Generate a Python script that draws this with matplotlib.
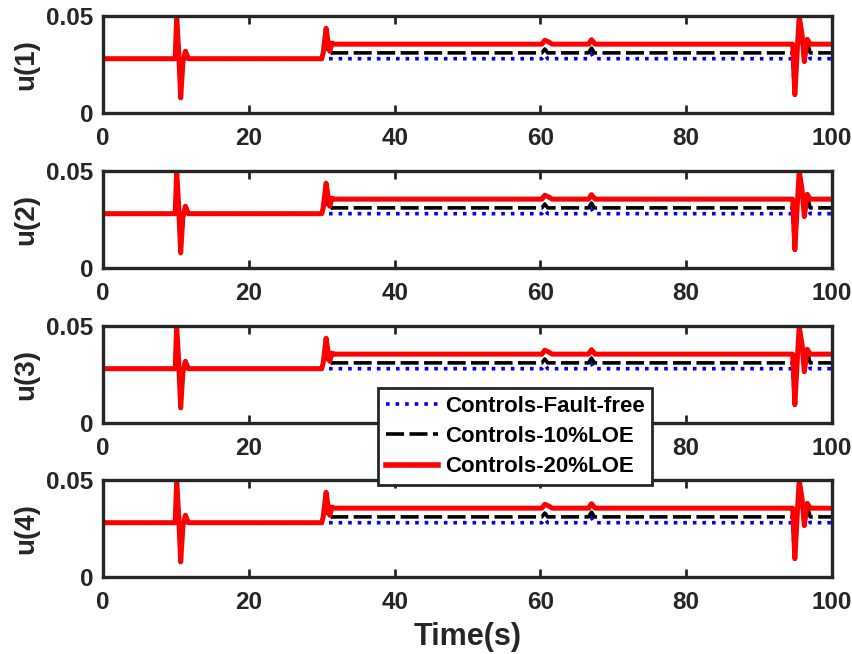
import matplotlib
matplotlib.use('Agg')
import matplotlib.pyplot as plt

plt.rcParams['font.family'] = ['Liberation Sans', 'DejaVu Sans']
plt.rcParams['font.weight'] = 'bold'

# time points / control values (same in all 4 channels)
t_ff = [0, 9.9, 10.1, 10.4, 10.65, 10.95, 11.3, 11.7, 60.2, 60.6, 61.0, 66.6, 67.0, 67.4,
        94.6, 94.9, 95.2, 95.5, 95.9, 96.2, 96.6, 97.0, 100]
u_ff = [0.028, 0.028, 0.050, 0.030, 0.0078, 0.026, 0.0318, 0.028, 0.028, 0.030, 0.028, 0.028, 0.0305, 0.028,
        0.028, 0.0085, 0.030, 0.050, 0.040, 0.0265, 0.036, 0.028, 0.028]

t_10 = [0, 9.9, 10.1, 10.4, 10.65, 10.95, 11.3, 11.7, 30.0, 30.3, 30.6, 31.0, 31.4, 60.2, 60.6, 61.0,
        66.6, 67.0, 67.4, 94.6, 94.9, 95.2, 95.5, 95.9, 96.2, 96.6, 97.0, 100]
u_10 = [0.028, 0.028, 0.050, 0.030, 0.0078, 0.026, 0.0318, 0.028, 0.028, 0.033, 0.038, 0.030, 0.031, 0.031, 0.033, 0.031,
        0.031, 0.0335, 0.031, 0.031, 0.009, 0.030, 0.050, 0.040, 0.0265, 0.037, 0.031, 0.031]

t_20 = [0, 9.9, 10.1, 10.4, 10.65, 10.95, 11.3, 11.7, 30.0, 30.2, 30.6, 30.9, 31.1, 31.4, 31.8,
        60.2, 60.6, 61.2, 61.6, 66.6, 67.0, 67.5, 94.6, 94.9, 95.2, 95.5, 95.9, 96.2, 96.6, 97.0, 100]
u_20 = [0.028, 0.028, 0.050, 0.030, 0.0078, 0.026, 0.0318, 0.028, 0.028, 0.031, 0.0437, 0.036, 0.0318, 0.036, 0.0355,
        0.0355, 0.0375, 0.0365, 0.0355, 0.0355, 0.0378, 0.0355, 0.0355, 0.0095, 0.030, 0.050, 0.040, 0.0265, 0.038, 0.0355, 0.0355]

ylabels = ['u(1)', 'u(2)', 'u(3)', 'u(4)']
xticks = [0, 20, 40, 60, 80, 100]
yticks = [0, 0.05]
ytick_labels = ['0', '0.05']

dark = '#262626'
fig = plt.figure(figsize=(8.53, 6.54), dpi=100)
bottoms = [0.8272, 0.5902, 0.3532, 0.1177]

for i in range(4):
    ax = fig.add_axes([0.1208, bottoms[i], 0.8546, 0.1483])
    l1, = ax.plot(t_ff, u_ff, color='blue', linestyle=':', linewidth=2.6)
    l2, = ax.plot(t_10, u_10, color='black', linestyle=(0, (5, 1.5)), linewidth=2.6)
    l3, = ax.plot(t_20, u_20, color='red', linestyle='-', linewidth=3.6)
    ax.set_xlim(0, 100)
    ax.set_ylim(0, 0.05)
    ax.set_xticks(xticks)
    ax.set_yticks(yticks)
    ax.set_yticklabels(ytick_labels)
    ax.tick_params(direction='in', top=True, right=True, length=6, width=2,
                   labelsize=17.5, colors=dark, pad=10)
    ax.tick_params(axis='y', pad=7)
    for s in ax.spines.values():
        s.set_linewidth(2.4)
        s.set_color(dark)
    ax.set_ylabel(ylabels[i], fontsize=20, fontweight='bold', color=dark)
    ax.yaxis.set_label_coords(-0.088, 0.5)
    if i == 3:
        ax.set_xlabel('Time(s)', fontsize=22, fontweight='bold', color=dark, labelpad=6)

leg = fig.legend([l1, l2, l3], ['Controls-Fault-free', 'Controls-10%LOE', 'Controls-20%LOE'],
                 loc='upper left', bbox_to_anchor=(378 / 853, 1 - 388 / 654), borderaxespad=0,
                 fontsize=16, fancybox=False, framealpha=1, edgecolor=dark,
                 handlelength=2.35, handletextpad=0.3, labelspacing=0.42, borderpad=0.35)
leg.get_frame().set_linewidth(2)
for txt in leg.get_texts():
    txt.set_fontweight('bold')
leg.get_lines()[2].set_linewidth(4)

fig.savefig('out.png', dpi=100)
